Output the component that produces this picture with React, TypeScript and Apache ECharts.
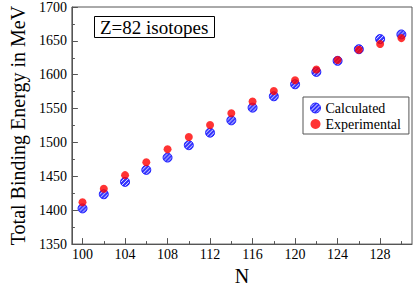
import React, { useEffect, useRef } from "react";
import * as echarts from "echarts";

const nValues = [100, 102, 104, 106, 108, 110, 112, 114, 116, 118, 120, 122, 124, 126, 128, 130];
const calculated = [1402.7, 1423.6, 1441.8, 1459.5, 1477.7, 1496, 1514.5, 1532.7, 1551.4, 1568.2, 1585.9, 1604.1, 1620.5, 1637.7, 1652.7, 1659.5];
const experimental = [1411.8, 1431.8, 1451.8, 1470.9, 1490, 1508, 1525.9, 1543.2, 1560.5, 1575.9, 1591.8, 1607.7, 1621.8, 1636.8, 1645.5, 1654.1];
const xMajorTicks = [100, 104, 108, 112, 116, 120, 124, 128];
const xMinorTicks = [102, 106, 110, 114, 118, 122, 126, 130];

const FONT = "Liberation Serif";
const AXIS = "#555";
const BLUE = "#0000ff";
const CALC_SIZE = 9;

const tileSvg =
  '<svg xmlns="http://www.w3.org/2000/svg" width="4" height="4">' +
  '<rect width="4" height="4" fill="' + BLUE + '"/>' +
  '<path d="M-1,1 L1,-1 M0,4 L4,0 M3,5 L5,3" stroke="#ffffff" stroke-width="0.9"/>' +
  "</svg>";
const tileUrl = "data:image/svg+xml;charset=utf-8," + encodeURIComponent(tileSvg);

export default function App() {
  const ref = useRef<HTMLDivElement>(null);
  useEffect(() => {
    if (!ref.current) return;
    const chart = echarts.init(ref.current, undefined, { renderer: "svg" });
    const calcData = nValues.map((n, i) => [n, calculated[i]]);
    const expData = nValues.map((n, i) => [n, experimental[i]]);
    const k = 2 / CALC_SIZE;
    const hatchScaled: any = { image: tileUrl, repeat: "repeat", imageWidth: 4, imageHeight: 4, scaleX: k, scaleY: k };
    const hatch: any = { image: tileUrl, repeat: "repeat", imageWidth: 4, imageHeight: 4 };
    chart.setOption({
      animation: false,
      backgroundColor: "#fff",
      textStyle: { fontFamily: FONT },
      title: {
        text: "Z=82 isotopes",
        left: 94,
        top: 16,
        padding: [2, 6, 1, 6],
        borderColor: "#000",
        borderWidth: 1,
        textStyle: { fontFamily: FONT, fontSize: 19, fontWeight: "normal", color: "#000" },
      },
      legend: {
        orient: "vertical",
        left: 303,
        top: 97,
        padding: [4, 8, 3, 7],
        itemGap: 2,
        itemWidth: 10,
        itemHeight: 10,
        borderColor: AXIS,
        borderWidth: 1,
        textStyle: { fontFamily: FONT, fontSize: 14, color: "#000" },
        data: [
          { name: "Calculated", itemStyle: { color: hatch, borderColor: BLUE, borderWidth: 1 } },
          { name: "Experimental" },
        ],
      },
      grid: {
        left: 53,
        right: 3,
        top: 5,
        bottom: 30,
        show: true,
        borderColor: AXIS,
        borderWidth: 1,
        backgroundColor: "transparent",
      },
      xAxis: [
        {
          type: "value",
          min: 99,
          max: 131,
          name: "N",
          nameLocation: "middle",
          nameGap: 21,
          nameTextStyle: { fontFamily: FONT, fontSize: 20, color: "#000" },
          axisLine: { show: true, lineStyle: { color: AXIS } },
          axisTick: { show: true, inside: true, length: 6, customValues: xMajorTicks, lineStyle: { color: AXIS } },
          axisLabel: { customValues: xMajorTicks, fontFamily: FONT, fontSize: 14, color: "#000", margin: 3 },
          splitLine: { show: false },
        },
        {
          type: "value",
          min: 99,
          max: 131,
          position: "bottom",
          axisLine: { show: false },
          axisTick: { show: true, inside: true, length: 3, customValues: xMinorTicks, lineStyle: { color: AXIS } },
          axisLabel: { show: false },
          splitLine: { show: false },
        },
      ],
      yAxis: {
        type: "value",
        min: 1350,
        max: 1700,
        interval: 50,
        name: "Total Binding Energy in MeV",
        nameLocation: "middle",
        nameGap: 36,
        nameTextStyle: { fontFamily: FONT, fontSize: 20, color: "#000" },
        axisLine: { show: true, lineStyle: { color: AXIS } },
        axisTick: { show: true, inside: true, length: 6, lineStyle: { color: AXIS } },
        minorTick: { show: true, splitNumber: 2, length: 3, lineStyle: { color: AXIS } },
        axisLabel: { fontFamily: FONT, fontSize: 14, color: "#000", margin: 5, formatter: (v: number) => String(v) },
        splitLine: { show: false },
      },
      series: [
        {
          name: "Calculated",
          type: "scatter",
          xAxisIndex: 0,
          symbol: "circle",
          symbolSize: CALC_SIZE,
          data: calcData,
          itemStyle: { color: hatchScaled, borderColor: BLUE, borderWidth: 1 },
          z: 2,
        },
        {
          name: "Experimental",
          type: "scatter",
          xAxisIndex: 0,
          symbol: "circle",
          symbolSize: 8,
          data: expData,
          itemStyle: { color: "#ff0000" },
          z: 3,
        },
      ],
    });
    return () => chart.dispose();
  }, []);
  return <div ref={ref} style={{ width: 415, height: 291, position: "absolute", left: 0, top: 0 }} />;
}
